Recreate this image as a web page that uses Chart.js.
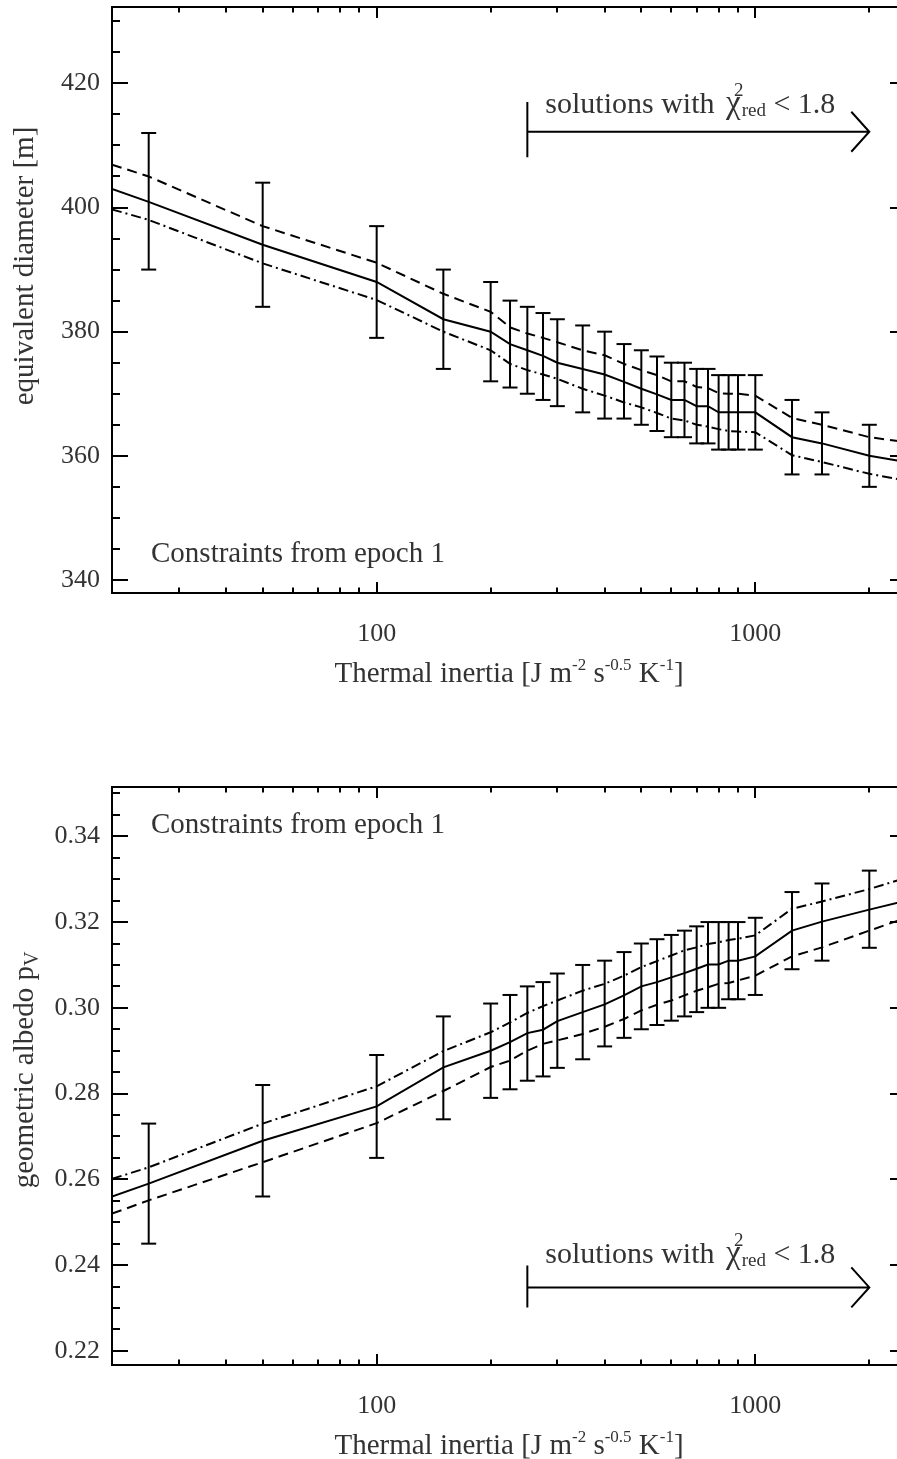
<!DOCTYPE html>
<html><head><meta charset="utf-8">
<script src="https://cdn.jsdelivr.net/npm/chart.js@4.4.1/dist/chart.umd.min.js"></script>
<style>
html,body{margin:0;padding:0;background:#fff;overflow:hidden;width:897px;height:1459px;position:relative;}
#c1{position:absolute;left:0;top:-40px;width:920px;height:760px;}
#c2{position:absolute;left:0;top:733px;width:920px;height:759px;}
</style></head><body>
<canvas id="c1" width="920" height="760"></canvas>
<canvas id="c2" width="920" height="759"></canvas>
<script>
// ---------------- data ----------------
const thermalInertia = [20,25,50,100,150,200,225,250,275,300,350,400,450,500,550,600,650,700,750,800,850,900,1000,1250,1500,2000,2500];
const errorBarInertia = [25,50,100,150,200,225,250,275,300,350,400,450,500,550,600,650,700,750,800,850,900,1000,1250,1500,2000];

const diameterBest  = [403.0,400.9,394.0,388.0,382.0,380.0,378.0,377.0,376.1,375.0,374.0,373.1,371.9,370.8,369.9,369.0,369.0,368.0,368.0,367.0,367.0,367.0,367.0,363.0,362.0,360.0,359.0];
const diameterDash  = [406.9,405.0,397.0,391.1,386.1,383.2,380.7,379.7,379.0,378.3,377.0,376.2,374.8,373.8,373.0,372.0,372.0,371.1,370.9,370.1,370.0,370.0,369.7,366.1,365.0,363.0,362.2];
const diameterDot   = [399.7,398.0,391.0,385.1,380.0,377.0,374.8,373.8,373.1,372.4,370.8,369.7,368.6,367.8,366.9,366.0,365.7,365.0,364.7,364.3,364.0,363.9,363.8,360.1,359.0,357.1,356.0];
const diameterErrHigh = [412,404,397,390,388,385,384,383,382,381,380,378,377,376,375,375,374,374,373,373,373,373,369,367,365];
const diameterErrLow  = [390,384,379,374,372,371,370,369,368,367,366,366,365,364,363,363,362,362,361,361,361,361,357,357,355];

const albedoBest = [0.2560,0.2590,0.2690,0.2770,0.2861,0.2900,0.2920,0.2941,0.2949,0.2969,0.2990,0.3008,0.3029,0.3050,0.3060,0.3071,0.3081,0.3091,0.3101,0.3101,0.3110,0.3110,0.3120,0.3180,0.3201,0.3229,0.3250];
const albedoDot  = [0.2601,0.2628,0.2730,0.2817,0.2899,0.2943,0.2966,0.2988,0.3004,0.3017,0.3040,0.3056,0.3075,0.3095,0.3109,0.3122,0.3134,0.3141,0.3149,0.3153,0.3158,0.3161,0.3169,0.3231,0.3248,0.3277,0.3303];
const albedoDash = [0.2520,0.2551,0.2640,0.2731,0.2806,0.2862,0.2877,0.2900,0.2916,0.2924,0.2939,0.2956,0.2974,0.2994,0.3007,0.3017,0.3029,0.3040,0.3048,0.3056,0.3058,0.3064,0.3075,0.3120,0.3141,0.3180,0.3210];
const albedoErrHigh = [0.273,0.282,0.289,0.298,0.301,0.303,0.305,0.306,0.308,0.310,0.311,0.313,0.315,0.316,0.317,0.318,0.319,0.320,0.320,0.320,0.320,0.321,0.327,0.329,0.332];
const albedoErrLow  = [0.245,0.256,0.265,0.274,0.279,0.281,0.283,0.284,0.286,0.288,0.291,0.293,0.295,0.296,0.297,0.298,0.299,0.300,0.300,0.302,0.302,0.303,0.309,0.311,0.314];

const xMajorTicks = [100,1000];
const xMinorTicks = [20,30,40,50,60,70,80,90,200,300,400,500,600,700,800,900,2000];
const yTicksDiameter = [340,360,380,400,420];
const yTicksAlbedo = [0.22,0.24,0.26,0.28,0.30,0.32,0.34];

// ---------------- helpers ----------------
const FONT = "'Liberation Serif','DejaVu Serif','Times New Roman',serif";
const TXT = '#333';

function pts(xs, ys){ return xs.map((x,i)=>({x:x, y:ys[i]})); }
function errPts(xs, lo, hi){ const p=[]; xs.forEach((x,i)=>{p.push({x:x,y:lo[i]},{x:x,y:hi[i]},{x:x,y:null});}); return p; }

function lineDS(data, dash){
  return {data:data, borderColor:'#000', borderWidth:2, borderDash:dash, pointRadius:0, fill:false, tension:0, order:2};
}
function errDS(data){
  return {data:data, borderColor:'#000', borderWidth:2, pointStyle:'line', pointRadius:7.5, pointBorderWidth:2,
          pointBorderColor:'#000', pointBackgroundColor:'#000', spanGaps:false, fill:false, tension:0, order:1};
}

function segment(ctx,x0,y0,x1,y1){ ctx.beginPath(); ctx.moveTo(x0,y0); ctx.lineTo(x1,y1); ctx.stroke(); }

const framePlugin = {
  id:'frame',
  afterDraw(chart, args, o){
    const ctx=chart.ctx, a=chart.chartArea, xs=chart.scales.x, ys=chart.scales.y;
    ctx.save();
    ctx.strokeStyle='#000'; ctx.lineWidth=2; ctx.lineCap='butt';
    ctx.strokeRect(a.left, a.top, a.right-a.left, a.bottom-a.top);
    // x ticks (bottom and top, inward)
    const xt=(v,len)=>{ const p=Math.round(xs.getPixelForValue(v)); segment(ctx,p,a.bottom,p,a.bottom-len); segment(ctx,p,a.top,p,a.top+len); };
    xMajorTicks.forEach(v=>xt(v,11)); xMinorTicks.forEach(v=>xt(v,5.5));
    // y ticks (left and right, inward)
    const yt=(v,len)=>{ const p=Math.round(ys.getPixelForValue(v)); segment(ctx,a.left,p,a.left+len,p); segment(ctx,a.right,p,a.right-len,p); };
    o.yMajor.forEach(v=>yt(v,16));
    for(let k=0;;k++){ const v=o.yMinorStart+k*o.yMinorStep; if(v>ys.max) break; if(v<ys.min) continue; yt(v,8); }

    // arrow annotation
    const n=o.note;
    const x0=xs.getPixelForValue(n.xStart), x1=xs.getPixelForValue(n.xEnd);
    const yl=ys.getPixelForValue(n.yLine), yb0=ys.getPixelForValue(n.yBarLow), yb1=ys.getPixelForValue(n.yBarHigh);
    ctx.beginPath(); ctx.moveTo(x0,yb0); ctx.lineTo(x0,yb1); ctx.moveTo(x0,yl); ctx.lineTo(x1,yl);
    ctx.moveTo(x1-18,yl-20); ctx.lineTo(x1,yl); ctx.lineTo(x1-18,yl+20); ctx.stroke();
    ctx.fillStyle=TXT; ctx.textAlign='left'; ctx.textBaseline='alphabetic';
    let tx=x0+18; const ty=ys.getPixelForValue(n.yText);
    ctx.font='30px '+FONT; const s1='solutions with ';
    ctx.fillText(s1,tx,ty); tx+=ctx.measureText(s1).width+4;
    ctx.font='33px '+FONT;
    const chiW=ctx.measureText('\u03C7').width; ctx.fillText('\u03C7',tx,ty);
    ctx.font='19px '+FONT; ctx.fillText('2',tx+chiW*0.55,ty-17);
    ctx.fillText('red',tx+chiW+1,ty+3); const redW=ctx.measureText('red').width;
    ctx.font='30px '+FONT; ctx.fillText(' < 1.8',tx+chiW+1+redW,ty);

    // epoch label
    ctx.font='29px '+FONT; ctx.fillText('Constraints from epoch 1', a.left+39, a.top+o.epochDY);

    // x title with superscripts
    const big='29px '+FONT, small='17px '+FONT;
    const parts=[['Thermal inertia [J m',0],['-2',1],[' s',0],['-0.5',1],[' K',0],['-1',1],[']',0]];
    let w=0; parts.forEach(p=>{ctx.font=p[1]?small:big; w+=ctx.measureText(p[0]).width;});
    let px=o.xTitleCenter-w/2; const py=a.bottom+89;
    parts.forEach(p=>{ctx.font=p[1]?small:big; ctx.fillText(p[0],px,p[1]?py-12:py); px+=ctx.measureText(p[0]).width;});

    // y title (rotated)
    ctx.translate(33, a.top+o.yTitleDY); ctx.rotate(-Math.PI/2);
    const yparts=o.yTitle;
    let yw=0; yparts.forEach(p=>{ctx.font=p[1]?'20px '+FONT:big; yw+=ctx.measureText(p[0]).width;});
    let qx=-yw/2;
    yparts.forEach(p=>{ctx.font=p[1]?'20px '+FONT:big; ctx.fillText(p[0],qx,p[1]?5:0); qx+=ctx.measureText(p[0]).width;});
    ctx.restore();
  }
};

function makeChart(id, cfg){
  return new Chart(document.getElementById(id), {
    type:'line',
    data:{datasets:cfg.datasets},
    plugins:[framePlugin],
    options:{
      responsive:false, animation:false, devicePixelRatio:1,
      layout:{padding:{top:cfg.padTop,right:14,left:0,bottom:0}},
      plugins:{legend:{display:false}, tooltip:{enabled:false}, frame:cfg.frame},
      scales:{
        x:{type:'logarithmic', min:20, max:2500,
           grid:{display:false, drawTicks:false}, border:{display:false},
           afterBuildTicks:s=>{ s.ticks=xMajorTicks.map(v=>({value:v, major:true})); },
           afterFit:s=>{ s.height=127; },
           ticks:{autoSkip:false, maxRotation:0, minRotation:0, padding:26, color:TXT,
                  font:{family:FONT,size:26}, callback:v=>String(v)}},
        y:{type:'linear', min:cfg.yMin, max:cfg.yMax,
           grid:{display:false, drawTicks:false}, border:{display:false},
           afterBuildTicks:s=>{ s.ticks=cfg.yTicks.map(v=>({value:v})); },
           afterFit:s=>{ s.width=112; },
           ticks:{padding:12, color:TXT, font:{family:FONT,size:26}, callback:cfg.yFmt}}
      }
    }
  });
}

makeChart('c1', {
  datasets:[
    lineDS(pts(thermalInertia,diameterBest),[]),
    lineDS(pts(thermalInertia,diameterDash),[10,6]),
    lineDS(pts(thermalInertia,diameterDot),[10,4,2,4]),
    errDS(errPts(errorBarInertia,diameterErrLow,diameterErrHigh))
  ],
  padTop:47, yMin:337.9, yMax:432.3, yTicks:yTicksDiameter, yFmt:v=>String(v),
  frame:{yMajor:yTicksDiameter, yMinorStart:340, yMinorStep:5, epochDY:555, xTitleCenter:509, yTitleDY:259,
         yTitle:[['equivalent diameter [m]',0]],
         note:{xStart:250,xEnd:2000,yLine:412.2,yBarLow:408.1,yBarHigh:417.0,yText:415.2}}
});

makeChart('c2', {
  datasets:[
    lineDS(pts(thermalInertia,albedoBest),[]),
    lineDS(pts(thermalInertia,albedoDot),[10,4,2,4]),
    lineDS(pts(thermalInertia,albedoDash),[10,6]),
    errDS(errPts(errorBarInertia,albedoErrLow,albedoErrHigh))
  ],
  padTop:54, yMin:0.2167, yMax:0.3515, yTicks:yTicksAlbedo, yFmt:v=>v.toFixed(2),
  frame:{yMajor:yTicksAlbedo, yMinorStart:0.22, yMinorStep:0.005, epochDY:46, xTitleCenter:509, yTitleDY:283,
         yTitle:[['geometric albedo p',0],['V',1]],
         note:{xStart:250,xEnd:2000,yLine:0.2348,yBarLow:0.2301,yBarHigh:0.2399,yText:0.2406}}
});
</script>
</body></html>
